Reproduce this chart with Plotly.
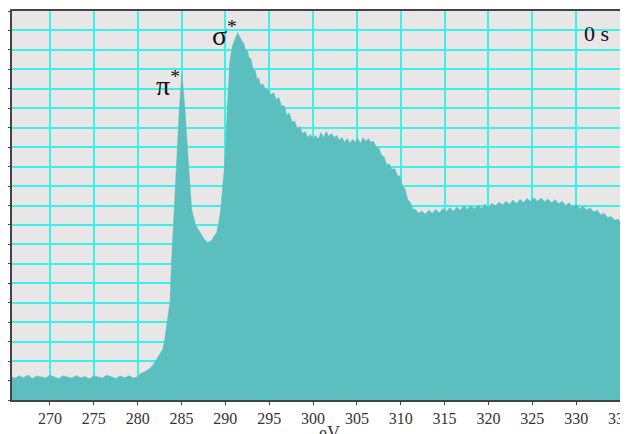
import plotly.graph_objects as go

# Energy (eV) and intensity (arbitrary units, 0-20 grid)
energy = [
    265.5, 266.0, 266.5, 267.0, 267.5, 268.0, 268.5, 269.0, 269.5, 270.0,
    270.5, 271.0, 271.5, 272.0, 272.5, 273.0, 273.5, 274.0, 274.5, 275.0,
    275.5, 276.0, 276.5, 277.0, 277.5, 278.0, 278.5, 279.0, 279.5, 280.0,
    280.3, 280.8, 281.3, 281.75, 282.2, 282.55, 282.85, 283.05, 283.25, 283.45,
    283.7, 283.85, 284.0, 284.22, 284.45, 284.75, 284.9, 285.02, 285.15, 285.4,
    285.77, 286.16, 286.6, 287.1, 287.6, 288.0, 288.4, 288.7, 289.0, 289.25,
    289.47, 289.7, 289.96, 290.2, 290.5, 290.8, 291.1, 291.25,
    291.4, 291.55, 291.7, 291.9, 292.1, 292.3, 292.5, 292.7, 292.9, 293.2,
    293.4, 293.6, 293.8, 294.0, 294.3, 294.6, 294.9, 295.2, 295.5, 295.8,
    296.1, 296.4, 296.7, 297.0, 297.3, 297.6, 297.9, 298.2, 298.5, 298.8,
    299.1, 299.4, 299.7, 300.0, 300.3, 300.6, 300.9, 301.2, 301.5, 301.8,
    302.1, 302.4, 302.7, 303.0, 303.3, 303.6, 303.9, 304.2, 304.5, 304.8,
    305.1, 305.4, 305.7, 306.0, 306.3, 306.6, 306.9, 307.2, 307.5, 307.8,
    308.1, 308.4, 308.7, 309.0, 309.3, 309.6, 309.9, 310.2, 310.5, 310.8,
    311.1, 311.4, 311.7, 312.0, 312.4, 312.8, 313.2, 313.6, 314.0, 314.4,
    314.8, 315.2, 315.6, 316.0, 316.4, 316.8, 317.2, 317.6, 318.0, 318.4,
    318.8, 319.2, 319.6, 320.0, 320.4, 320.8, 321.2, 321.6, 322.0, 322.4,
    322.8, 323.2, 323.6, 324.0, 324.4, 324.8, 325.2, 325.6, 326.0, 326.4,
    326.8, 327.2, 327.6, 328.0, 328.4, 328.8, 329.2, 329.6, 330.0, 330.4,
    330.8, 331.2, 331.6, 332.0, 332.4, 332.8, 333.2, 333.6, 334.0, 334.4,
    334.8, 335.0,
]

intensity = [
    1.22, 1.12, 1.25, 1.15, 1.28, 1.10, 1.24, 1.18, 1.13, 1.27,
    1.17, 1.10, 1.25, 1.20, 1.12, 1.26, 1.15, 1.21, 1.09, 1.24,
    1.18, 1.13, 1.27, 1.19, 1.11, 1.23, 1.15, 1.25, 1.13, 1.20,
    1.35, 1.45, 1.60, 1.80, 2.10, 2.35, 2.60, 3.00, 3.60, 4.30,
    5.10, 7.00, 8.20, 9.80, 12.30, 14.90, 16.00, 16.70, 16.20, 14.90,
    12.30, 9.80, 9.00, 8.60, 8.25, 8.10, 8.20, 8.40, 8.60, 9.10,
    9.80, 11.00, 12.30, 14.90, 17.40, 18.20, 18.55, 18.70,
    18.90, 18.75, 18.60, 18.45, 18.35, 17.95, 18.00, 17.60, 17.55, 16.95,
    16.95, 16.50, 16.55, 16.20, 16.25, 15.95, 15.95, 15.70, 15.80, 15.45,
    15.55, 15.10, 15.15, 14.65, 14.75, 14.30, 14.35, 13.95, 14.05, 13.70,
    13.80, 13.50, 13.65, 13.45, 13.60, 13.40, 13.75, 13.50, 13.80, 13.55,
    13.70, 13.50, 13.60, 13.35, 13.50, 13.25, 13.45, 13.20, 13.40, 13.25,
    13.45, 13.20, 13.50, 13.30, 13.45, 13.25, 13.30, 13.00, 12.95, 12.60,
    12.50, 12.10, 12.15, 11.85, 11.90, 11.55, 11.50, 11.00, 10.85, 10.30,
    10.15, 9.80, 9.80, 9.60, 9.72, 9.55, 9.75, 9.60, 9.80, 9.62,
    9.85, 9.68, 9.90, 9.70, 9.92, 9.75, 9.98, 9.80, 10.00, 9.82,
    10.02, 9.85, 10.08, 9.90, 10.12, 9.98, 10.18, 10.02, 10.22, 10.06,
    10.28, 10.10, 10.32, 10.15, 10.36, 10.20, 10.40, 10.22, 10.38, 10.20,
    10.34, 10.14, 10.30, 10.08, 10.22, 10.00, 10.14, 9.92, 10.06, 9.85,
    9.96, 9.76, 9.88, 9.66, 9.76, 9.52, 9.60, 9.38, 9.44, 9.24,
    9.30, 9.18,
]

x_ticks = [270, 275, 280, 285, 290, 295, 300, 305, 310, 315, 320, 325, 330, 335]
x_label = "eV"
time_label = "0 s"
peak_labels = ["π<sup>*</sup>", "σ<sup>*</sup>"]
peak_pos_x = [285.0, 291.6]
peak_pos_y = [16.25, 18.85]

FILL = "#5bbfbf"
GRID = "#3ff0e6"
BG = "#e8e6e6"
AXIS = "#444444"
SERIF = "Liberation Serif, Times New Roman, serif"

fig = go.Figure()
fig.add_trace(go.Scatter(
    x=energy, y=intensity, mode="lines", fill="tozeroy",
    fillcolor=FILL, line=dict(color=FILL, width=0.5),
    hoverinfo="skip", showlegend=False,
))

for lbl, px, py in zip(peak_labels, peak_pos_x, peak_pos_y):
    fig.add_annotation(x=px, y=py, xref="x", yref="y", text=lbl,
                       showarrow=False, xanchor="right", yanchor="middle",
                       font=dict(family=SERIF, size=28, color="#111111"))

fig.add_annotation(x=0.985, y=0.943, xref="paper", yref="paper", text=time_label,
                   showarrow=False, xanchor="right", yanchor="middle",
                   font=dict(family=SERIF, size=22, color="#111111"))
fig.add_annotation(x=0.523, y=-0.055, xref="paper", yref="paper", text=x_label,
                   showarrow=False, xanchor="center", yanchor="top",
                   font=dict(family=SERIF, size=18, color="#333333"))

fig.update_xaxes(
    range=[265.67, 335.0], tickvals=x_ticks, ticktext=[str(v) for v in x_ticks],
    showgrid=True, gridcolor=GRID, gridwidth=1.6,
    showline=True, linecolor=AXIS, linewidth=1.5, mirror=True,
    ticks="outside", ticklen=3, tickcolor=AXIS, zeroline=False,
    tickfont=dict(family=SERIF, size=16, color="#333333"),
    automargin=False, ticklabeloverflow="allow",
)
fig.update_yaxes(
    range=[0, 20], dtick=1, showticklabels=False,
    showgrid=True, gridcolor=GRID, gridwidth=1.6,
    showline=True, linecolor=AXIS, linewidth=1.5, mirror=True,
    ticks="outside", ticklen=4, tickcolor=AXIS, zeroline=False,
    automargin=False,
)
fig.update_layout(
    width=620, height=426,
    margin=dict(l=4, r=8, t=3, b=34),
    plot_bgcolor=BG, paper_bgcolor="white",
)
fig.write_html("out.html")
